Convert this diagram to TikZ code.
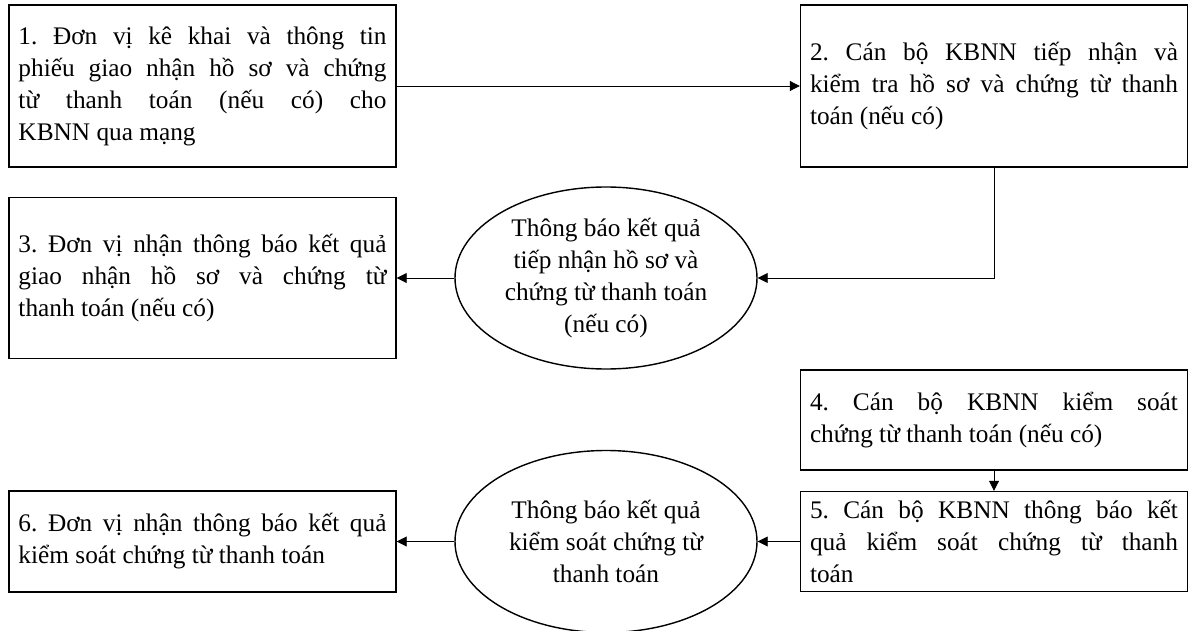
\documentclass[tikz,border=0pt]{standalone}
\usepackage{fontspec}
\setmainfont{Liberation Serif}
\usetikzlibrary{arrows.meta,shapes.geometric}
\hyphenpenalty=10000
\tolerance=10000
\frenchspacing

\begin{document}
\begin{tikzpicture}[font=\fontsize{14.4}{18.2}\selectfont,
		box/.style={draw=black, line width=0.8pt, rectangle, text width=7.36cm, align=justify, inner xsep=0.19cm, inner ysep=0pt},
		oval/.style={draw=black, line width=0.8pt, ellipse, minimum width=6.04cm, minimum height=3.64cm, inner sep=0pt, align=center},
		arr/.style={line width=0.5pt, -{Triangle[length=0.2cm, width=0.2cm]}}]
		\useasboundingbox (0,0) rectangle (23.82,-12.62);
		
		\node[box, minimum height=3.24cm] (1) at (4.05,-1.72) {1. Đơn vị kê khai và thông tin\linebreak phiếu giao nhận hồ sơ và chứng\linebreak từ thanh toán (nếu có) cho\linebreak KBNN qua mạng};
		\node[box, minimum height=3.24cm] (2) at (19.88,-1.72) {2. Cán bộ KBNN tiếp nhận và\linebreak kiểm tra hồ sơ và chứng từ thanh\linebreak toán (nếu có)};
		
		\node[box, minimum height=3.22cm] (3) at (4.05,-5.56) {3. Đơn vị nhận thông báo kết quả\linebreak giao nhận hồ sơ và chứng từ\linebreak thanh toán (nếu có)};
		\node[oval] (A) at (12.12,-5.56) {Thông báo kết quả\\tiếp nhận hồ sơ và\\chứng từ thanh toán\\(nếu có)};
		
		\node[box, minimum height=2cm] (4) at (19.88,-8.4) {4. Cán bộ KBNN kiểm soát\linebreak chứng từ thanh toán (nếu có)};
		\node[box, minimum height=2cm] (5) at (19.88,-10.83) {5. Cán bộ KBNN thông báo kết\linebreak quả kiểm soát chứng từ thanh\linebreak toán};
		
		\node[box, minimum height=2.02cm] (6) at (4.05,-10.83) {6. Đơn vị nhận thông báo kết quả\linebreak kiểm soát chứng từ thanh toán};
		\node[oval] (B) at (12.12,-10.83) {Thông báo kết quả\\kiểm soát chứng từ\\thanh toán};
		
		\path []
		(1) edge[arr] (2)
		(2) edge[arr, to path={|- (\tikztotarget)}] (A)
		(A) edge[arr] (3)
		(4) edge[arr] (5)
		(5) edge[arr] (B)
		(B) edge[arr] (6);
	\end{tikzpicture}
\end{document}
